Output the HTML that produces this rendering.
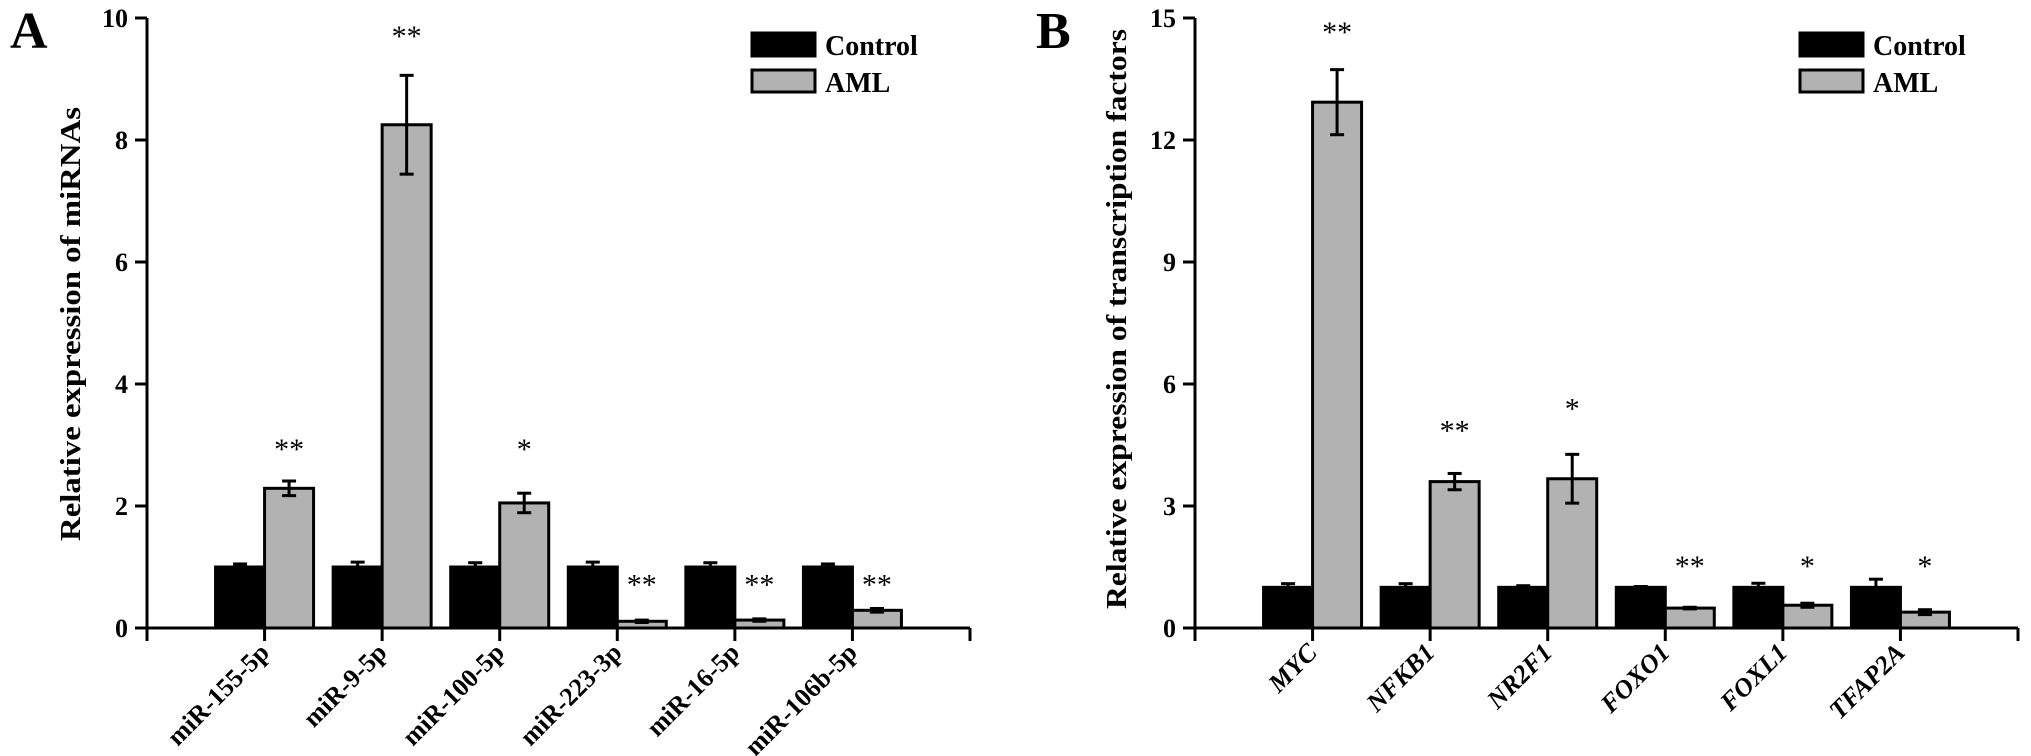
<!DOCTYPE html>
<html><head><meta charset="utf-8"><style>
html,body{margin:0;padding:0;background:#fff;}
svg{display:block;font-family:"Liberation Serif",serif;}
</style></head><body>
<svg id="chart" width="2031" height="756" viewBox="0 0 2031 756" xmlns="http://www.w3.org/2000/svg"></svg>
<script>
// Panel A data
const catsA = ["miR-155-5p","miR-9-5p","miR-100-5p","miR-223-3p","miR-16-5p","miR-106b-5p"];
const ctrlA = [1,1,1,1,1,1];
const ctrlErrA = [0.05,0.08,0.07,0.08,0.07,0.05];
const amlA = [2.29,8.25,2.05,0.11,0.13,0.29];
const amlErrA = [0.12,0.81,0.16,0.02,0.02,0.03];
const starsA = ["**","**","*","**","**","**"];
const starValA = [3.0,9.77,3.0,0.78,0.78,0.78];
const ticksA = [0,2,4,6,8,10];
// Panel B data
const catsB = ["MYC","NFKB1","NR2F1","FOXO1","FOXL1","TFAP2A"];
const ctrlB = [1,1,1,1,1,1];
const ctrlErrB = [0.09,0.09,0.04,0.02,0.1,0.2];
const amlB = [12.93,3.6,3.67,0.49,0.56,0.39];
const amlErrB = [0.8,0.2,0.6,0.02,0.05,0.06];
const starsB = ["**","**","*","**","*","*"];
const starValB = [14.75,4.95,5.5,1.62,1.62,1.62];
const ticksB = [0,3,6,9,12,15];

const NS="http://www.w3.org/2000/svg";
const svg=document.getElementById('chart');
function mk(tag,attrs,parent){const e=document.createElementNS(NS,tag);for(const k in attrs)e.setAttribute(k,attrs[k]);(parent||svg).appendChild(e);return e;}

function panel(o){
  const g=mk('g',{});
  
  
  const x0=o.x0, x1=o.x0+823, y0=628, yTop=18;
  const ys=v=>y0-(v/o.max)*(y0-yTop);
  const band=(x1-x0)/7;
  const xc=i=>x0+band*(i+1);
  const bw=49;
  // letter
  const L=mk('text',{x:o.letterX,y:48,'font-size':52,'font-weight':'bold'},g);L.textContent=o.letter;
  
  
  // y title
  const yt=mk('text',{x:0,y:0,'font-size':28,'font-weight':'bold','text-anchor':'middle',transform:`translate(${o.titleX},${o.titleY}) rotate(-90)`,textLength:o.titleLen,lengthAdjust:'spacingAndGlyphs'},g);
  yt.textContent=o.title;
  
  
  // bars
  o.cats.forEach((c,i)=>{
    const cx=xc(i);
    const b1=mk('rect',{x:cx-bw,y:ys(o.ctrl[i]),width:bw,height:y0-ys(o.ctrl[i]),fill:'#000',stroke:'#000','stroke-width':3},g);
    
    
    const b2=mk('rect',{x:cx,y:ys(o.aml[i]),width:bw,height:y0-ys(o.aml[i]),fill:'#b2b2b2',stroke:'#000','stroke-width':3},g);
    
    
    // error bars
    [[cx-bw/2,o.ctrl[i],o.ctrlErr[i]],[cx+bw/2,o.aml[i],o.amlErr[i]]].forEach(([ex,v,e],k)=>{
      const eg=mk('g',{stroke:'#000','stroke-width':3},g);
      
      
      mk('line',{x1:ex,x2:ex,y1:ys(v+e),y2:k===0?ys(v):ys(v-e)},eg);
      mk('line',{x1:ex-7,x2:ex+7,y1:ys(v+e),y2:ys(v+e)},eg);
      if(k===1) mk('line',{x1:ex-7,x2:ex+7,y1:ys(v-e),y2:ys(v-e)},eg);
    });
    const st=mk('text',{x:cx+bw/2,y:ys(o.starVal[i])+14,'font-size':30,'text-anchor':'middle'},g);
    st.textContent=o.stars[i];
    
    
    // x tick + label
    mk('line',{x1:cx,x2:cx,y1:y0,y2:y0+13,stroke:'#000','stroke-width':3},g);
    const lt=mk('text',{x:0,y:0,'font-size':26,'font-weight':'bold','font-style':o.italic?'italic':'normal','text-anchor':'end',transform:`translate(${cx+6},${y0+26}) rotate(-45)`},g);
    lt.textContent=c;
    
    
  });
  // axes
  const ax=mk('path',{d:`M${x0} ${yTop}V${y0}M${x0-12} ${y0}H${x1}M${x0} ${y0}V${y0+13}M${x1} ${y0}V${y0+13}`,stroke:'#000','stroke-width':3,fill:'none'},g);
  
  
  o.ticks.forEach(t=>{
    mk('line',{x1:x0-12,x2:x0,y1:ys(t),y2:ys(t),stroke:'#000','stroke-width':3},g);
    const tl=mk('text',{x:x0-19,y:ys(t)+9,'font-size':26,'font-weight':'bold','text-anchor':'end'},g);
    tl.textContent=t;
    
    
  });
  // legend
  const lg=mk('g',{},g);
  
  
  const lx=o.legX;
  mk('rect',{x:lx,y:33,width:63,height:23,fill:'#000',stroke:'#000','stroke-width':3},lg);
  mk('rect',{x:lx,y:70,width:63,height:22,fill:'#b2b2b2',stroke:'#000','stroke-width':3},lg);
  const t1=mk('text',{x:lx+73,y:55,'font-size':28,'font-weight':'bold'},lg);t1.textContent='Control';
  
  
  const t2=mk('text',{x:lx+73,y:92,'font-size':28,'font-weight':'bold'},lg);t2.textContent='AML';
  
  
}
panel({id:'a',letter:'A',letterX:10,x0:147,max:10,cats:catsA,ctrl:ctrlA,ctrlErr:ctrlErrA,aml:amlA,amlErr:amlErrA,stars:starsA,starVal:starValA,ticks:ticksA,
  title:'Relative expression of miRNAs',titleX:80,titleY:324,titleLen:434,legX:752,italic:false});
panel({id:'b',letter:'B',letterX:1036,x0:1195,max:15,cats:catsB,ctrl:ctrlB,ctrlErr:ctrlErrB,aml:amlB,amlErr:amlErrB,stars:starsB,starVal:starValB,ticks:ticksB,
  title:'Relative expression of transcription factors',titleX:1126,titleY:319,titleLen:580,legX:1800,italic:true});
</script>
</body></html>
